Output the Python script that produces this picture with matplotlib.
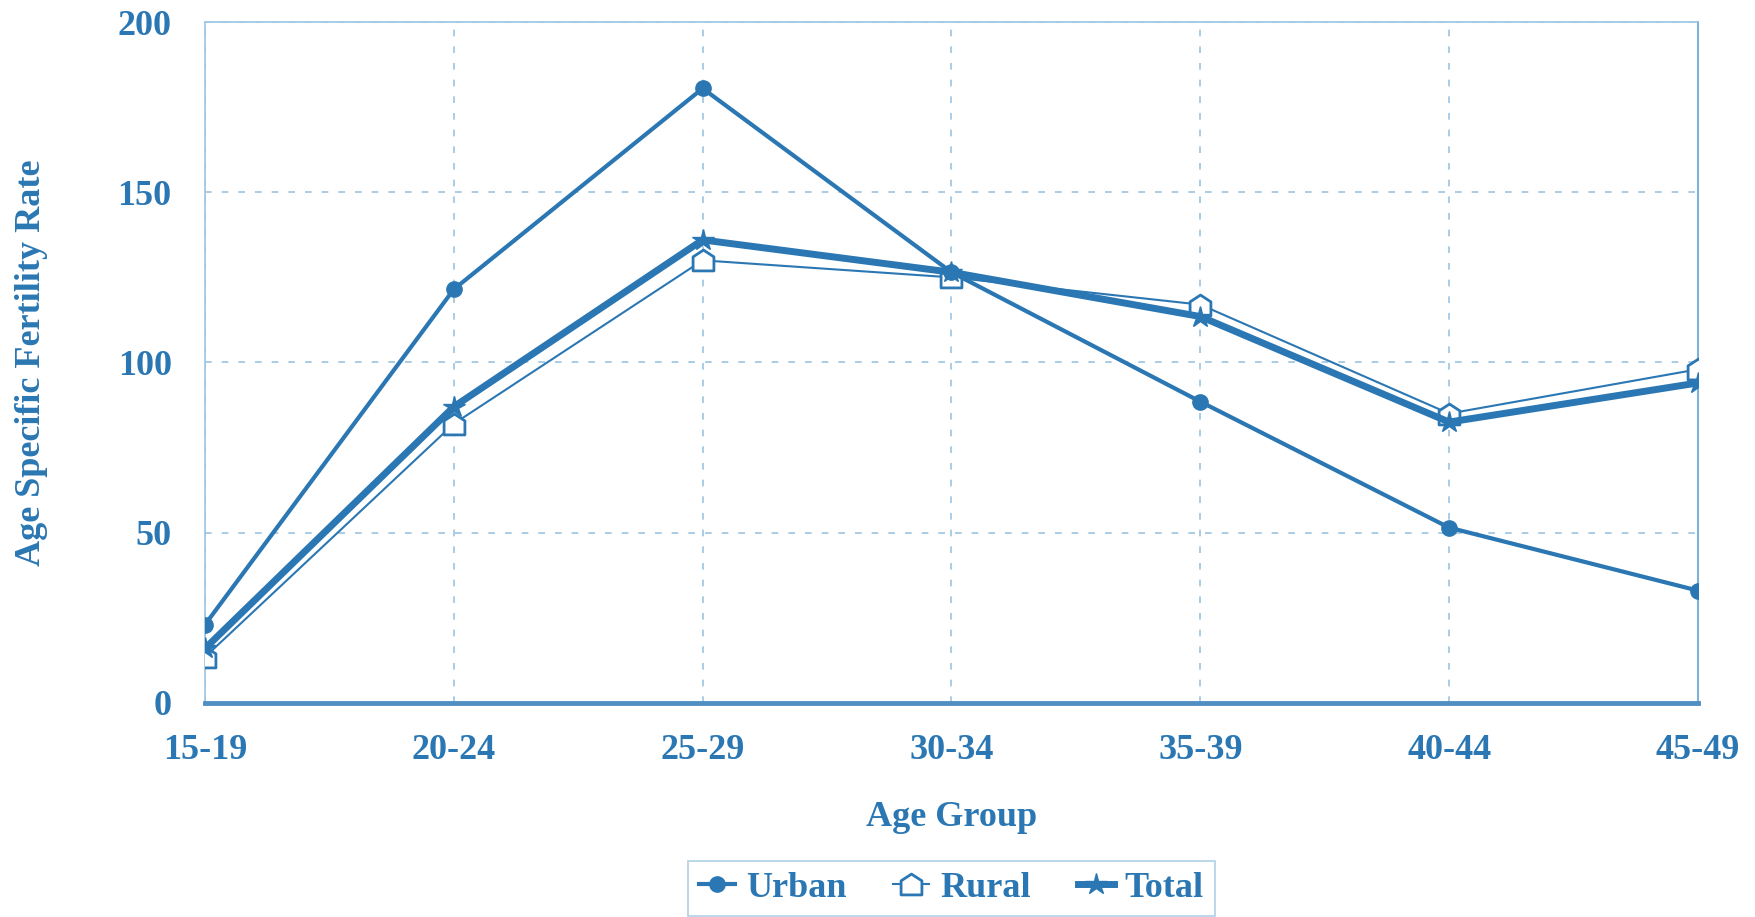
import matplotlib.pyplot as plt
from matplotlib.path import Path

# Data
age_groups = ["15-19", "20-24", "25-29", "30-34", "35-39", "40-44", "45-49"]
urban = [23, 121.5, 180.5, 126.5, 88.5, 51.5, 33]
rural = [13.5, 82, 130, 125, 117, 85, 98]
total = [16, 87, 136, 126.5, 113.5, 82.5, 94]

blue = "#2a77b3"
grid_blue = "#9cc4e2"

plt.rcParams["font.family"] = ["Liberation Serif", "DejaVu Serif"]
plt.rcParams["font.weight"] = "bold"

# house-shaped marker for Rural
house = Path([(-1, -1), (1, -1), (1, 0.35), (0, 1), (-1, 0.35), (-1, -1)],
             [Path.MOVETO, Path.LINETO, Path.LINETO, Path.LINETO, Path.LINETO, Path.CLOSEPOLY])

fig = plt.figure(figsize=(17.55, 9.17), dpi=100)
ax = fig.add_axes([0.1168, 0.2334, 0.8507, 0.7426])

x = list(range(len(age_groups)))
ax.plot(x, urban, color=blue, lw=3, marker="o", markersize=11, label="Urban", zorder=4)
ax.plot(x, rural, color=blue, lw=1.5, marker=house, markersize=15, markerfacecolor="white",
        markeredgewidth=2, label="Rural", zorder=3)
ax.plot(x, total, color=blue, lw=5, marker="*", markersize=16, label="Total", zorder=5)

ax.set_xlim(0, 6)
ax.set_ylim(0, 200)
ax.set_yticks([0, 50, 100, 150, 200])
ax.set_xticks(x)
ax.set_xticklabels(age_groups)

ax.grid(True, color=grid_blue, linestyle=(0, (4, 6)), linewidth=1.2)
ax.tick_params(length=0, labelsize=26, labelcolor=blue)
ax.tick_params(axis="x", pad=22)
ax.tick_params(axis="y", pad=24)
for s in ["top", "left"]:
    ax.spines[s].set_color(grid_blue)
    ax.spines[s].set_linewidth(1.2)
ax.spines["right"].set_color("#7fb0d6")
ax.spines["right"].set_linewidth(1.5)
ax.spines["bottom"].set_color("#4f8fc2")
ax.spines["bottom"].set_linewidth(3.5)

ax.set_xlabel("Age Group", fontsize=26, color=blue, fontweight="bold")
ax.xaxis.set_label_coords(0.5, -0.144)
ax.set_ylabel("Age Specific Fertility Rate", fontsize=26, color=blue, fontweight="bold")
ax.yaxis.set_label_coords(-0.105, 0.5)

leg = ax.legend(loc="upper center", bbox_to_anchor=(0.5, -0.232), ncol=3, frameon=True,
                fancybox=False, fontsize=26, handlelength=1.0, handletextpad=0.3,
                columnspacing=1.3, borderpad=0.3, borderaxespad=0)
leg.get_frame().set_edgecolor(grid_blue)
leg.get_frame().set_linewidth(1.2)
for t in leg.get_texts():
    t.set_color(blue)

fig.savefig("out.png", dpi=100)
